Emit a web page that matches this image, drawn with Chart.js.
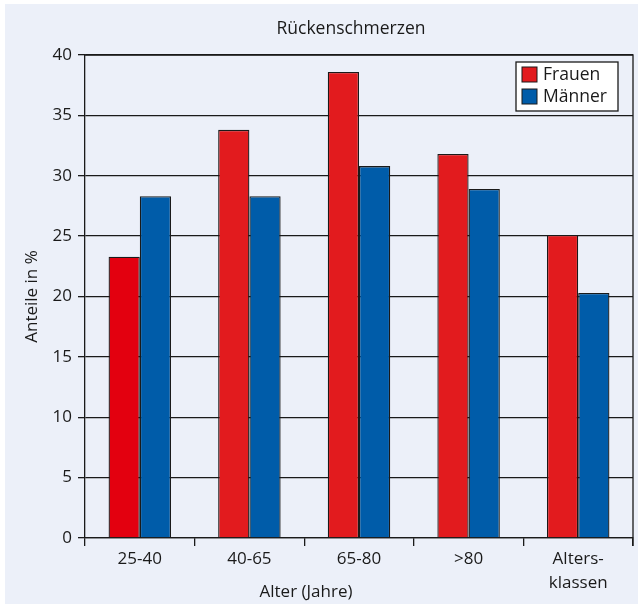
<!DOCTYPE html>
<html>
<head>
<meta charset="utf-8">
<script src="https://cdn.jsdelivr.net/npm/chart.js@4.4.1/dist/chart.umd.min.js"></script>
<style>
  html, body { margin: 0; padding: 0; background: #ffffff; }
  #wrap { position: absolute; left: 5px; top: 4px; width: 633px; height: 600px; background: #ecf0f9; }
  canvas { display: block; }
</style>
</head>
<body>
<div id="wrap"><canvas id="c" width="633" height="600"></canvas></div>
<script>
// Age groups on the x axis
const categories = ['25-40', '40-65', '65-80', '>80', ['Alters-', 'klassen']];
// Share with back pain, in percent
const frauen = [23.3, 33.8, 38.6, 31.8, 25.1];
const maenner = [28.3, 28.3, 30.8, 28.9, 20.3];
const seriesNames = ['Frauen', 'Männer'];
const yTicks = [0, 5, 10, 15, 20, 25, 30, 35, 40];
const chartTitle = 'Rückenschmerzen';
const xTitle = 'Alter (Jahre)';
const yTitle = 'Anteile in %';

const FONT = '"Open Sans", "Noto Sans", sans-serif';
const INK = '#1a1a1a';
const RED = '#e21b1e';
const BLUE = '#005ca9';

// Titles, frame around the plot area and the boxed legend in the top-right corner
const framePlugin = {
  id: 'frame',
  afterDatasetsDraw(chart) {
    const { ctx, chartArea: a } = chart;
    ctx.save();
    ctx.strokeStyle = INK;
    ctx.lineWidth = 1.3;
    ctx.beginPath();
    ctx.moveTo(a.left, a.top);
    ctx.lineTo(a.right, a.top);
    ctx.lineTo(a.right, a.bottom + 8);
    ctx.stroke();

    ctx.fillStyle = INK;
    ctx.textAlign = 'center';
    ctx.textBaseline = 'middle';
    ctx.font = '17.5px ' + FONT;
    ctx.fillText(chartTitle, 346, 25);
    ctx.font = '17px ' + FONT;
    ctx.fillText(xTitle, 301, 588);

    // legend box
    const bx = a.right - 117, by = a.top + 7, bw = 102, bh = 49;
    ctx.fillStyle = '#ffffff';
    ctx.fillRect(bx, by, bw, bh);
    ctx.strokeRect(bx, by, bw, bh);
    chart.data.datasets.forEach((ds, i) => {
      const sy = by + 5 + i * 22;
      const col = Array.isArray(ds.backgroundColor) ? ds.backgroundColor[1] : ds.backgroundColor;
      ctx.fillStyle = col;
      ctx.fillRect(bx + 6, sy, 15, 15);
      ctx.lineWidth = 1;
      ctx.strokeRect(bx + 6, sy, 15, 15);
      ctx.fillStyle = INK;
      ctx.font = '17.5px ' + FONT;
      ctx.textBaseline = 'middle';
      ctx.textAlign = 'left';
      ctx.fillText(ds.label, bx + 27, sy + 8);
    });
    ctx.restore();
  }
};

new Chart(document.getElementById('c'), {
  type: 'bar',
  data: {
    labels: categories,
    datasets: [
      {
        label: seriesNames[0],
        data: frauen,
        backgroundColor: ['#e3000f', RED, RED, RED, RED],
        borderColor: INK,
        borderWidth: 1.3,
        categoryPercentage: 0.57,
        barPercentage: 1.0
      },
      {
        label: seriesNames[1],
        data: maenner,
        backgroundColor: BLUE,
        borderColor: INK,
        borderWidth: 1.3,
        categoryPercentage: 0.57,
        barPercentage: 1.0
      }
    ]
  },
  options: {
    responsive: false,
    animation: false,
    layout: { padding: { left: 0, right: 5, top: 51, bottom: 0 } },
    plugins: {
      legend: { display: false },
      tooltip: { enabled: false },
      title: { display: false }
    },
    scales: {
      x: {
        offset: true,
        grid: { display: true, offset: true, drawOnChartArea: false, drawTicks: true, tickLength: 8, color: INK, lineWidth: 1.3 },
        border: { display: true, color: INK, width: 1.3 },
        ticks: { color: INK, font: { family: FONT, size: 17, lineHeight: 1.41 }, padding: 1, maxRotation: 0, autoSkip: false },
        title: { display: false },
        afterFit(scale) { scale.height = 66; }
      },
      y: {
        min: 0,
        max: 40,
        afterBuildTicks(scale) { scale.ticks = yTicks.map(v => ({ value: v })); },
        grid: { display: true, drawOnChartArea: true, drawTicks: true, tickLength: 7, color: INK, lineWidth: 1.3 },
        border: { display: true, color: INK, width: 1.3 },
        ticks: { color: INK, font: { family: FONT, size: 17 }, padding: 6 },
        title: {
          display: true,
          text: yTitle,
          color: INK,
          font: { family: FONT, size: 17, lineHeight: 1.2 },
          padding: { top: 17, bottom: 0 }
        },
        afterFit(scale) { scale.width = 80; }
      }
    }
  },
  plugins: [framePlugin]
});
</script>
</body>
</html>
